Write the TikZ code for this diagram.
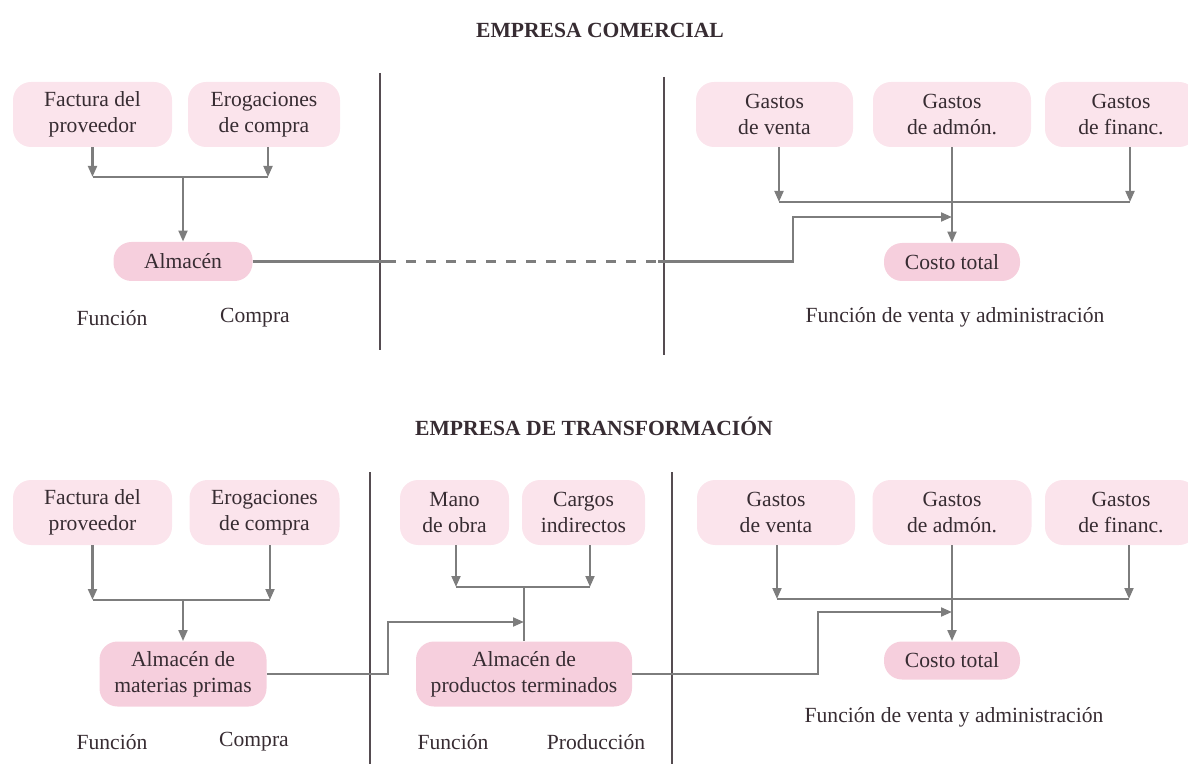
\documentclass[tikz,border=0pt]{standalone}
\usepackage{fontspec}
\setmainfont{Liberation Serif}
\usepackage{tikz}
\usetikzlibrary{arrows.meta}
\definecolor{rosaclaro}{RGB}{251,228,236}
\definecolor{rosa}{RGB}{246,207,221}
\definecolor{gris}{RGB}{125,125,125}
\definecolor{texto}{RGB}{55,44,50}

\tikzset{
	caja/.style={rectangle, rounded corners=9pt, fill=rosaclaro, text=texto, align=center, inner sep=0pt, minimum height=32.5pt, font=\fontsize{10.8}{13}\selectfont},
	almacen/.style={caja, fill=rosa},
	rotulo/.style={text=texto, inner sep=0pt, font=\fontsize{10.8}{13}\selectfont},
	titulo/.style={text=texto, inner sep=0pt, font=\fontsize{10.8}{13}\selectfont\bfseries},
	linea/.style={draw=gris, line width=1.2pt},
	flecha/.style={linea, -{Triangle[length=5.5pt, width=4.4pt]}},
	division/.style={draw=texto!85, line width=0.7pt}
}

\begin{document}
\begin{tikzpicture}[x=0.5pt, y=-0.5pt]
	\useasboundingbox (0,0) rectangle (1188,764);

	\node[titulo] (t1) at (600,30) {EMPRESA COMERCIAL};
	\node[caja, minimum width=79.5pt] (fac1) at (92.5,114.5) {Factura del\\proveedor};
	\node[caja, minimum width=76pt] (ero1) at (264,114.5) {Erogaciones\\de compra};
	\node[almacen, minimum width=69.5pt, minimum height=19.5pt] (alm1) at (183,261.5) {Almacén};
	\node[caja, minimum width=78.5pt] (gv1) at (774.5,114.5) {Gastos\\de venta};
	\node[caja, minimum width=79pt] (ga1) at (952,114.5) {Gastos\\de admón.};
	\node[caja, minimum width=76pt] (gf1) at (1121,114.5) {Gastos\\de financ.};
	\node[almacen, minimum width=68pt, minimum height=19pt] (ct1) at (952,262) {Costo total};
	\node[rotulo] (fun1) at (112,318) {Función};
	\node[rotulo] (com1) at (255,318) {Compra};
	\node[rotulo] (fva1) at (955,317) {Función de venta y administración};

	\draw[division] (380,73) -- (380,350);
	\draw[division] (664,77) -- (664,355);

	\coordinate (b1) at (183,177);
	\coordinate (e1) at ([xshift=2pt]ero1.south);
	\draw[flecha] (fac1.south) -- (fac1.south |- b1);
	\draw[flecha] (e1) -- (e1 |- b1);
	\draw[linea] (fac1.south |- b1) -- (e1 |- b1);
	\draw[flecha] (b1) -- (alm1.north);

	\coordinate (b2) at (779,202);
	\coordinate (v1) at ([xshift=2.25pt]gv1.south);
	\coordinate (f1) at ([xshift=4.5pt]gf1.south);
	\draw[flecha] (v1) -- (v1 |- b2);
	\draw[flecha] (f1) -- (f1 |- b2);
	\draw[linea] (v1 |- b2) -- (f1 |- b2);
	\draw[flecha] (ga1.south) -- (ct1.north);

	\coordinate (d1) at (386,261.5);
	\coordinate (d2) at (658,261.5);
	\coordinate (q1) at (793,261.5);
	\coordinate (q2) at (793,217);
	\draw[linea] (alm1.east) -- (d1);
	\draw[linea, dash pattern=on 5pt off 5pt] (d1) -- (d2);
	\draw[flecha] (d2) -- (q1) -- (q2) -- (ga1.south |- q2);

	\node[titulo] (t2) at (594,426) {EMPRESA DE TRANSFORMACIÓN};
	\node[caja, minimum width=79.5pt] (fac2) at (92.5,512.5) {Factura del\\proveedor};
	\node[caja, minimum width=75pt] (ero2) at (264.5,512.5) {Erogaciones\\de compra};
	\node[almacen, minimum width=83.5pt] (amp) at (183,674) {Almacén de\\materias primas};
	\node[caja, minimum width=54.5pt] (mo) at (454.5,512.5) {Mano\\de obra};
	\node[caja, minimum width=61.5pt] (ci) at (583.5,512.5) {Cargos\\indirectos};
	\node[almacen, minimum width=108pt] (apt) at (524,674) {Almacén de\\productos terminados};
	\node[caja, minimum width=79pt] (gv2) at (776,512.5) {Gastos\\de venta};
	\node[caja, minimum width=79.5pt] (ga2) at (952,512.5) {Gastos\\de admón.};
	\node[caja, minimum width=76pt] (gf2) at (1121,512.5) {Gastos\\de financ.};
	\node[almacen, minimum width=68pt, minimum height=19pt] (ct2) at (952,660.5) {Costo total};
	\node[rotulo] (fun2) at (112,742) {Función};
	\node[rotulo] (com2) at (254,742) {Compra};
	\node[rotulo] (fun3) at (453,742) {Función};
	\node[rotulo] (pro) at (596,742) {Producción};
	\node[rotulo] (fva2) at (954,717) {Función de venta y administración};

	\draw[division] (370,472) -- (370,764);
	\draw[division] (672,472) -- (672,764);

	\coordinate (b3) at (183,600);
	\coordinate (e2) at ([xshift=2.75pt]ero2.south);
	\draw[flecha] (fac2.south) -- (fac2.south |- b3);
	\draw[flecha] (e2) -- (e2 |- b3);
	\draw[linea] (fac2.south |- b3) -- (e2 |- b3);
	\draw[flecha] (b3) -- (amp.north);

	\coordinate (b4) at (524,587);
	\coordinate (m1) at ([xshift=0.75pt]mo.south);
	\coordinate (c1) at ([xshift=3.25pt]ci.south);
	\draw[flecha] (m1) -- (m1 |- b4);
	\draw[flecha] (c1) -- (c1 |- b4);
	\draw[linea] (m1 |- b4) -- (c1 |- b4);
	\draw[linea] (b4) -- (apt.north);

	\coordinate (b5) at (777,599);
	\coordinate (v2) at ([xshift=0.5pt]gv2.south);
	\coordinate (f2) at ([xshift=4pt]gf2.south);
	\draw[flecha] (v2) -- (v2 |- b5);
	\draw[flecha] (f2) -- (f2 |- b5);
	\draw[linea] (v2 |- b5) -- (f2 |- b5);
	\draw[flecha] (ga2.south) -- (ct2.north);

	\coordinate (p1) at (388,674);
	\coordinate (p2) at (388,622);
	\draw[flecha] (amp.east) -- (p1) -- (p2) -- (apt.north |- p2);
	\coordinate (r1) at (818,674);
	\coordinate (r2) at (818,612);
	\draw[flecha] (apt.east) -- (r1) -- (r2) -- (ga2.south |- r2);
\end{tikzpicture}
\end{document}
